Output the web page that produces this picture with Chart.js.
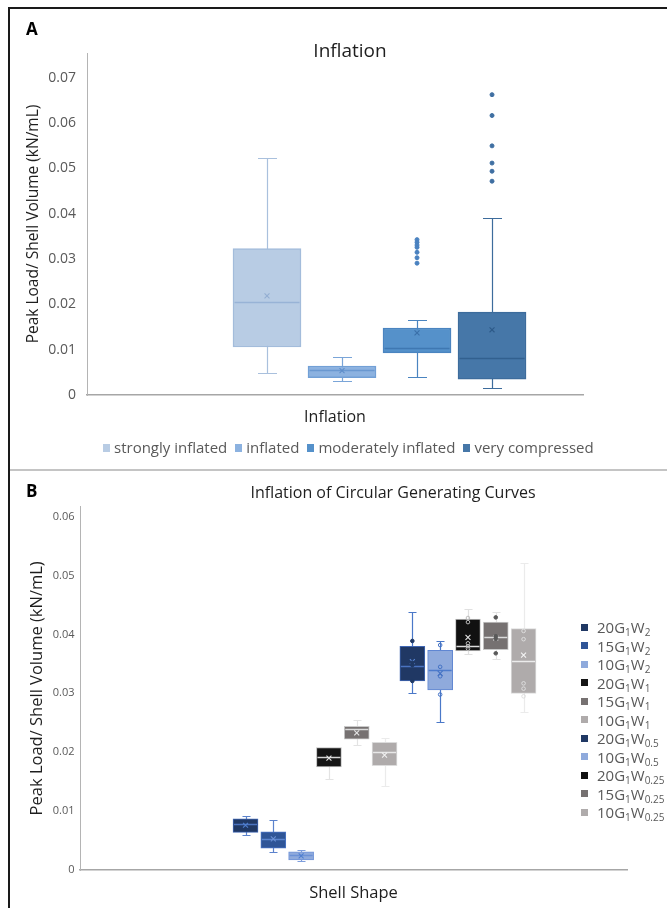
<!DOCTYPE html>
<html>
<head>
<meta charset="utf-8">
<script src="https://cdn.jsdelivr.net/npm/chart.js@4.4.1/dist/chart.umd.min.js"></script>
<style>
  html, body { margin: 0; padding: 0; background: #fff; }
  body { width: 667px; height: 908px; position: relative; overflow: hidden; font-family: 'Open Sans', sans-serif; }
  .frame-top  { position: absolute; left: 8px; top: 7px; width: 659px; height: 2px; background: #1a1a1a; }
  .frame-left { position: absolute; left: 8px; top: 7px; width: 2px; height: 901px; background: #1a1a1a; }
  .sep        { position: absolute; left: 10px; top: 469px; width: 657px; height: 2px; background: #c4c4c4; }
  canvas { position: absolute; }
  #chartA { left: 11px; top: 10px; }
  #chartB { left: 11px; top: 471px; }
  .letter { position: absolute; left: 26px; font-weight: 700; font-size: 17px; line-height: 17px; color: #000; }
  .ptitle { position: absolute; white-space: nowrap; transform: translateX(-50%); color: #1e1e1e; }
  #titleA { left: 350px; top: 41px; font-size: 19px; line-height: 19px; }
  #titleB { left: 393px; top: 484px; font-size: 16px; line-height: 16px; }
  .legend { position: absolute; color: #595959; font-size: 15px; }
  #legendA { left: 103px; top: 440px; display: flex; align-items: center; line-height: 15px; white-space: nowrap; }
  #legendA .item { display: flex; align-items: center; margin-right: 8px; }
  #legendA .sw { width: 7px; height: 8px; margin-right: 4px; }
  #legendB { left: 581px; top: 618px; }
  #legendB .item { display: flex; align-items: center; height: 18.5px; white-space: nowrap; }
  #legendB .sw { width: 7px; height: 7px; margin-right: 9px; }
  #legendB sub { font-size: 10px; vertical-align: -3px; line-height: 0; }
</style>
</head>
<body>
<div class="frame-top"></div>
<div class="frame-left"></div>
<div class="sep"></div>
<canvas id="chartA" width="654" height="458"></canvas>
<canvas id="chartB" width="654" height="437"></canvas>
<div class="letter" style="top:20px">A</div>
<div class="letter" style="top:482px">B</div>
<div class="ptitle" id="titleA">Inflation</div>
<div class="ptitle" id="titleB">Inflation of Circular Generating Curves</div>
<div class="legend" id="legendA"></div>
<div class="legend" id="legendB"></div>
<script>
// --- panel A: inflation ------------------------------------------------------
const inflationLabels   = ['strongly inflated', 'inflated', 'moderately inflated', 'very compressed'];
const inflationMin      = [0.0049, 0.0031, 0.0040, 0.0015];
const inflationQ1       = [0.0106, 0.0038, 0.0093, 0.0035];
const inflationMedian   = [0.0206, 0.0055, 0.0104, 0.0082];
const inflationMean     = [0.0219, 0.0054, 0.0137, 0.0144];
const inflationQ3       = [0.0323, 0.0064, 0.0148, 0.0183];
const inflationMax      = [0.0524, 0.0084, 0.0166, 0.0391];
const inflationOutliers = [
	[],
	[],
	[0.0343, 0.0337, 0.0331, 0.0326, 0.0315, 0.0303, 0.0291],
	[0.0663, 0.0617, 0.0550, 0.0512, 0.0494, 0.0472]
];
const inflationTicks = [0, 0.01, 0.02, 0.03, 0.04, 0.05, 0.06, 0.07];

// --- panel B: circular generating curves -------------------------------------
const shapeLabels = ['20G1W2', '15G1W2', '10G1W2', '20G1W1', '15G1W1', '10G1W1',
	'20G1W0.5', '10G1W0.5', '20G1W0.25', '15G1W0.25', '10G1W0.25'];
const shapeMin    = [0.0059, 0.0031, 0.0016, 0.0154, 0.0212, 0.0143, 0.0300, 0.0252, 0.0367, 0.0358, 0.0269];
const shapeQ1     = [0.0064, 0.0037, 0.0017, 0.0175, 0.0222, 0.0177, 0.0321, 0.0306, 0.0372, 0.0374, 0.0300];
const shapeMedian = [0.0078, 0.0053, 0.0026, 0.0192, 0.0239, 0.0200, 0.0346, 0.0340, 0.0380, 0.0396, 0.0355];
const shapeMean   = [0.0076, 0.0053, 0.0024, 0.0190, 0.0233, 0.0195, 0.0354, 0.0334, 0.0395, 0.0394, 0.0365];
const shapeQ3     = [0.0087, 0.0065, 0.0031, 0.0208, 0.0244, 0.0217, 0.0380, 0.0373, 0.0426, 0.0421, 0.0410];
const shapeMax    = [0.0092, 0.0085, 0.0034, 0.0208, 0.0255, 0.0224, 0.0438, 0.0389, 0.0443, 0.0439, 0.0522];
const shapePoints = [
	[], [], [], [], [], [],
	[0.0389, 0.0352, 0.0348, 0.0321],
	[0.0382, 0.0345, 0.0329, 0.0298],
	[0.0428, 0.0421, 0.0385, 0.0380, 0.0376],
	[0.0429, 0.0397, 0.0393, 0.0368],
	[0.0406, 0.0392, 0.0317, 0.0308, 0.0295]
];
const shapeTicks = [0, 0.01, 0.02, 0.03, 0.04, 0.05, 0.06];

// --- styles -------------------------------------------------------------------
const styleA = {
	fill:    ['#b8cce4', '#8cb2e0', '#5591ca', '#4677a8'],
	border:  ['#a3bcdb', '#72a0d6', '#4a84c0', '#3d6c9c'],
	median:  ['#98b3d6', '#6a98d0', '#3f78b2', '#32608f'],
	whisker: ['#a9c0dd', '#7aa5d8', '#4a84c0', '#3d6c9c'],
	mean:    ['#93aed2', '#5d8dca', '#3a6fa8', '#2d5a88'],
	point:   ['#4f81bd', '#4f81bd', '#4a82c0', '#3f6fa2'],
	pointFill: ['#4f81bd', '#4f81bd', '#4a82c0', '#3f6fa2'],
	barThickness: 68, cap: 19, borderWidth: 1.5, meanRadius: 3.5, pointRadius: 2
};
const styleB = {
	fill:    ['#203864', '#2f5597', '#8faadc', '#151515', '#767171', '#afabab', '#203864', '#8faadc', '#111111', '#767171', '#afabab'],
	border:  ['#3f66b4', '#4a75c6', '#6f93d8', '#bdbdbd', '#c9c9c9', '#dcdcdc', '#3f66b4', '#5f86d2', '#c6c6c6', '#c9c9c9', '#dcdcdc'],
	median:  ['#4a73c0', '#5b84cf', '#6c91d6', '#d6d6d6', '#dadada', '#e8e8e8', '#4a73c0', '#4d7bcc', '#dcdcdc', '#dadada', '#ececec'],
	whisker: ['#5b82cc', '#5b82cc', '#7d9ddc', '#e3e3e3', '#e3e3e3', '#ebebeb', '#4a78c8', '#4a78c8', '#e0e0e0', '#e3e3e3', '#ebebeb'],
	mean:    ['#4f7fd0', '#6a8fd4', '#4f7fd0', '#e6e6e6', '#e6e6e6', '#f0f0f0', '#5a86d4', '#4472c4', '#e6e6e6', '#e6e6e6', '#f4f4f4'],
	point:   ['#1f3864', '#1f3864', '#1f3864', '#888', '#888', '#888', '#1f3864', '#4472c4', '#bdbdbd', '#595959', '#dedede'],
	pointFill: ['#1f3864', '#1f3864', '#1f3864', '#888', '#888', '#888', '#1f3864', 'rgba(0,0,0,0)', 'rgba(0,0,0,0)', '#595959', 'rgba(0,0,0,0)'],
	barThickness: 25, cap: 8, borderWidth: 1, meanRadius: 3.5, pointRadius: 1.8
};

// --- helpers ------------------------------------------------------------------
const crisp = v => Math.round(v) + 0.5;

// whiskers behind the boxes, medians on top of them
function boxPlugin(stats, style) {
	return {
		id: 'boxWhiskers',
		beforeDatasetsDraw(chart) {
			const { ctx, scales: { x, y } } = chart;
			ctx.save();
			ctx.lineWidth = 1.2;
			stats.min.forEach((_, i) => {
				const cx = crisp(x.getPixelForValue(i));
				const half = style.cap / 2;
				const yMax = crisp(y.getPixelForValue(stats.max[i]));
				const yMin = crisp(y.getPixelForValue(stats.min[i]));
				ctx.strokeStyle = style.whisker[i];
				ctx.beginPath();
				ctx.moveTo(cx, yMax); ctx.lineTo(cx, yMin);
				if (stats.max[i] > stats.q3[i]) { ctx.moveTo(cx - half, yMax); ctx.lineTo(cx + half, yMax); }
				if (stats.min[i] < stats.q1[i]) { ctx.moveTo(cx - half, yMin); ctx.lineTo(cx + half, yMin); }
				ctx.stroke();
			});
			ctx.restore();
		},
		afterDatasetDraw(chart, args) {
			if (args.index !== 0) return;
			const { ctx, scales: { x, y } } = chart;
			ctx.save();
			ctx.lineWidth = 1.5;
			stats.median.forEach((m, i) => {
				const cx = x.getPixelForValue(i);
				const half = style.barThickness / 2 - style.borderWidth;
				const ym = crisp(y.getPixelForValue(m));
				ctx.strokeStyle = style.median[i];
				ctx.beginPath();
				ctx.moveTo(cx - half, ym); ctx.lineTo(cx + half, ym);
				ctx.stroke();
			});
			ctx.restore();
		}
	};
}

function buildBoxChart(canvas, stats, style, layout) {
	const idx   = stats.labels.map((_, i) => i);
	const boxes = idx.map(i => ({ x: i, y: [stats.q1[i], stats.q3[i]] }));
	const means = idx.map(i => ({ x: i, y: stats.mean[i], c: i }));
	const dots  = [];
	stats.points.forEach((arr, i) => arr.forEach(v => dots.push({ x: i, y: v, c: i })));

	const font = (size) => ({ family: "'Open Sans', sans-serif", size });

	return new Chart(canvas.getContext('2d'), {
		type: 'bar',
		data: {
			datasets: [
				{ type: 'bar', data: boxes, order: 2,
				  backgroundColor: style.fill, borderColor: style.border,
				  borderWidth: style.borderWidth, borderSkipped: false,
				  barThickness: style.barThickness },
				{ type: 'scatter', data: means, order: 1,
				  pointStyle: 'crossRot', pointRadius: style.meanRadius, pointBorderWidth: 1.1,
				  pointBorderColor: c => style.mean[c.raw.c], pointBackgroundColor: 'rgba(0,0,0,0)' },
				{ type: 'scatter', data: dots, order: 0,
				  pointStyle: 'circle', pointRadius: style.pointRadius, pointBorderWidth: 1,
				  pointBorderColor: c => style.point[c.raw.c],
				  pointBackgroundColor: c => style.pointFill[c.raw.c] }
			]
		},
		options: {
			responsive: false,
			animation: false,
			events: [],
			layout: { padding: layout.padding },
			plugins: { legend: { display: false }, title: { display: false }, tooltip: { enabled: false } },
			scales: {
				x: {
					type: 'linear', min: layout.xMin, max: layout.xMax, offset: false,
					grid: { display: false, drawTicks: false },
					border: { display: true, color: '#a6a6a6', width: layout.xBorder },
					ticks: { display: false },
					afterBuildTicks: s => { s.ticks = []; },
					afterFit: s => { s.height = layout.xHeight; },
					title: { display: true, text: layout.xTitle, color: '#1e1e1e',
					         font: font(layout.xTitleSize), padding: { top: 0, bottom: layout.xTitlePad } }
				},
				y: {
					type: 'linear', min: 0, max: layout.yMax,
					grid: { display: false, drawTicks: false },
					border: { display: true, color: '#b4b4b4', width: 1 },
					afterBuildTicks: s => { s.ticks = stats.ticks.map(v => ({ value: v })); },
					afterFit: s => { s.width = layout.yWidth; },
					ticks: { padding: layout.tickPad, color: '#595959', font: font(layout.tickSize),
					         callback: v => v === 0 ? '0' : String(+v.toFixed(2)) },
					title: { display: true, text: 'Peak Load/ Shell Volume (kN/mL)', color: '#1e1e1e',
					         font: font(layout.yTitleSize), padding: { top: layout.yTitlePad, bottom: 0 } }
				}
			}
		},
		plugins: [boxPlugin(stats, style)]
	});
}

function el(tag, attrs, children) {
	const node = document.createElement(tag);
	if (attrs) for (const k in attrs) {
		if (k === 'class') node.className = attrs[k];
		else if (k === 'text') node.textContent = attrs[k];
		else if (k === 'bg') node.style.background = attrs[k];
		else node.setAttribute(k, attrs[k]);
	}
	if (children) children.forEach(c => c && node.appendChild(c));
	return node;
}

// "20G1W0.25" -> 20G<sub>1</sub>W<sub>0.25</sub>
function shapeName(label) {
	const m = /^(\d+)G(\d+)W([\d.]+)$/.exec(label);
	if (!m) return [document.createTextNode(label)];
	return [document.createTextNode(m[1] + 'G'), el('sub', { text: m[2] }),
	        document.createTextNode('W'), el('sub', { text: m[3] })];
}

// --- render ---------------------------------------------------------------------
buildBoxChart(document.getElementById('chartA'), {
	labels: inflationLabels, min: inflationMin, q1: inflationQ1, median: inflationMedian,
	mean: inflationMean, q3: inflationQ3, max: inflationMax, points: inflationOutliers, ticks: inflationTicks
}, styleA, {
	padding: { top: 43, right: 82, bottom: 39, left: 0 },
	xMin: -2.4, xMax: 4.213, xBorder: 1.5, xHeight: 34, xTitle: 'Inflation', xTitleSize: 16, xTitlePad: 2.4,
	yMax: 0.0755, yWidth: 76, tickPad: 11, tickSize: 14, yTitleSize: 15.5, yTitlePad: 13.7
});

buildBoxChart(document.getElementById('chartB'), {
	labels: shapeLabels, min: shapeMin, q1: shapeQ1, median: shapeMedian,
	mean: shapeMean, q3: shapeQ3, max: shapeMax, points: shapePoints, ticks: shapeTicks
}, styleB, {
	padding: { top: 35.7, right: 38, bottom: 0, left: 0 },
	xMin: -5.953, xMax: 13.72, xBorder: 1.5, xHeight: 38, xTitle: 'Shell Shape', xTitleSize: 16.5, xTitlePad: 5,
	yMax: 0.0617, yWidth: 69, tickPad: 5.5, tickSize: 11, yTitleSize: 16.5, yTitlePad: 16
});

const legendA = document.getElementById('legendA');
inflationLabels.forEach((name, i) => {
	legendA.appendChild(el('span', { class: 'item' }, [
		el('span', { class: 'sw', bg: styleA.fill[i] }),
		el('span', { text: name })
	]));
});

const legendB = document.getElementById('legendB');
shapeLabels.forEach((name, i) => {
	legendB.appendChild(el('div', { class: 'item' }, [
		el('span', { class: 'sw', bg: styleB.fill[i] }),
		el('span', null, shapeName(name))
	]));
});
</script>
</body>
</html>
